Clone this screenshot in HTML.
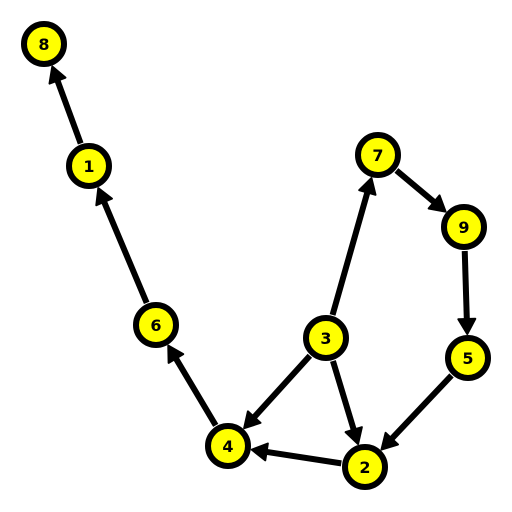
<!DOCTYPE html>
<html><head><meta charset="utf-8"><style>
html,body{margin:0;padding:0;background:#fff;}
svg{display:block;}
</style></head><body>
<svg id="chart" width="512" height="512" viewBox="0 0 512 512" xmlns="http://www.w3.org/2000/svg"></svg>
<script>
const nodeIds = ["8","1","7","9","6","3","5","4","2"];
const nodeX = [44,89,378,464,156,326,468,228,365];
const nodeY = [44,166,155,227,325,338,358,446,467];
const edgeFrom = ["1","6","4","3","3","3","7","9","5","2"];
const edgeTo   = ["8","1","6","4","7","2","9","5","2","4"];

const svg = document.getElementById('chart');
const NS = 'http://www.w3.org/2000/svg';
const R = 20, gap = 24;
function pos(id){const i=nodeIds.indexOf(id);return [nodeX[i],nodeY[i]];}

const eg = document.createElementNS(NS,'g');


svg.appendChild(eg);
for(let k=0;k<edgeFrom.length;k++){
  const [x1,y1]=pos(edgeFrom[k]), [x2,y2]=pos(edgeTo[k]);
  const dx=x2-x1, dy=y2-y1, L=Math.hypot(dx,dy), ux=dx/L, uy=dy/L;
  const sx=x1+ux*gap, sy=y1+uy*gap, ex=x2-ux*gap, ey=y2-uy*gap;
  const hl=15, hw=8.5;
  const bx=ex-ux*hl, by=ey-uy*hl;
  const g=document.createElementNS(NS,'g');
  
  
  const ln=document.createElementNS(NS,'line');
  ln.setAttribute('x1',sx);ln.setAttribute('y1',sy);
  ln.setAttribute('x2',bx+ux*3);ln.setAttribute('y2',by+uy*3);
  ln.setAttribute('stroke','#000');ln.setAttribute('stroke-width','6');
  g.appendChild(ln);
  const p=document.createElementNS(NS,'polygon');
  p.setAttribute('points',`${ex},${ey} ${bx-uy*hw},${by+ux*hw} ${bx+uy*hw},${by-ux*hw}`);
  p.setAttribute('fill','#000');p.setAttribute('stroke','#000');p.setAttribute('stroke-width','2');p.setAttribute('stroke-linejoin','round');
  g.appendChild(p);
  eg.appendChild(g);
}
const ng = document.createElementNS(NS,'g');


svg.appendChild(ng);
for(let i=0;i<nodeIds.length;i++){
  const g=document.createElementNS(NS,'g');
  
  
  const c=document.createElementNS(NS,'circle');
  c.setAttribute('cx',nodeX[i]);c.setAttribute('cy',nodeY[i]);c.setAttribute('r',R);
  c.setAttribute('fill','#ffff00');c.setAttribute('stroke','#000');c.setAttribute('stroke-width','6');
  g.appendChild(c);
  const t=document.createElementNS(NS,'text');
  t.setAttribute('x',nodeX[i]);t.setAttribute('y',nodeY[i]+6);
  t.setAttribute('text-anchor','middle');
  t.setAttribute('font-family','"DejaVu Sans","Liberation Sans",sans-serif');
  t.setAttribute('font-weight','bold');t.setAttribute('font-size','16');
  t.textContent=nodeIds[i];
  g.appendChild(t);
  ng.appendChild(g);
}
</script>
</body></html>
